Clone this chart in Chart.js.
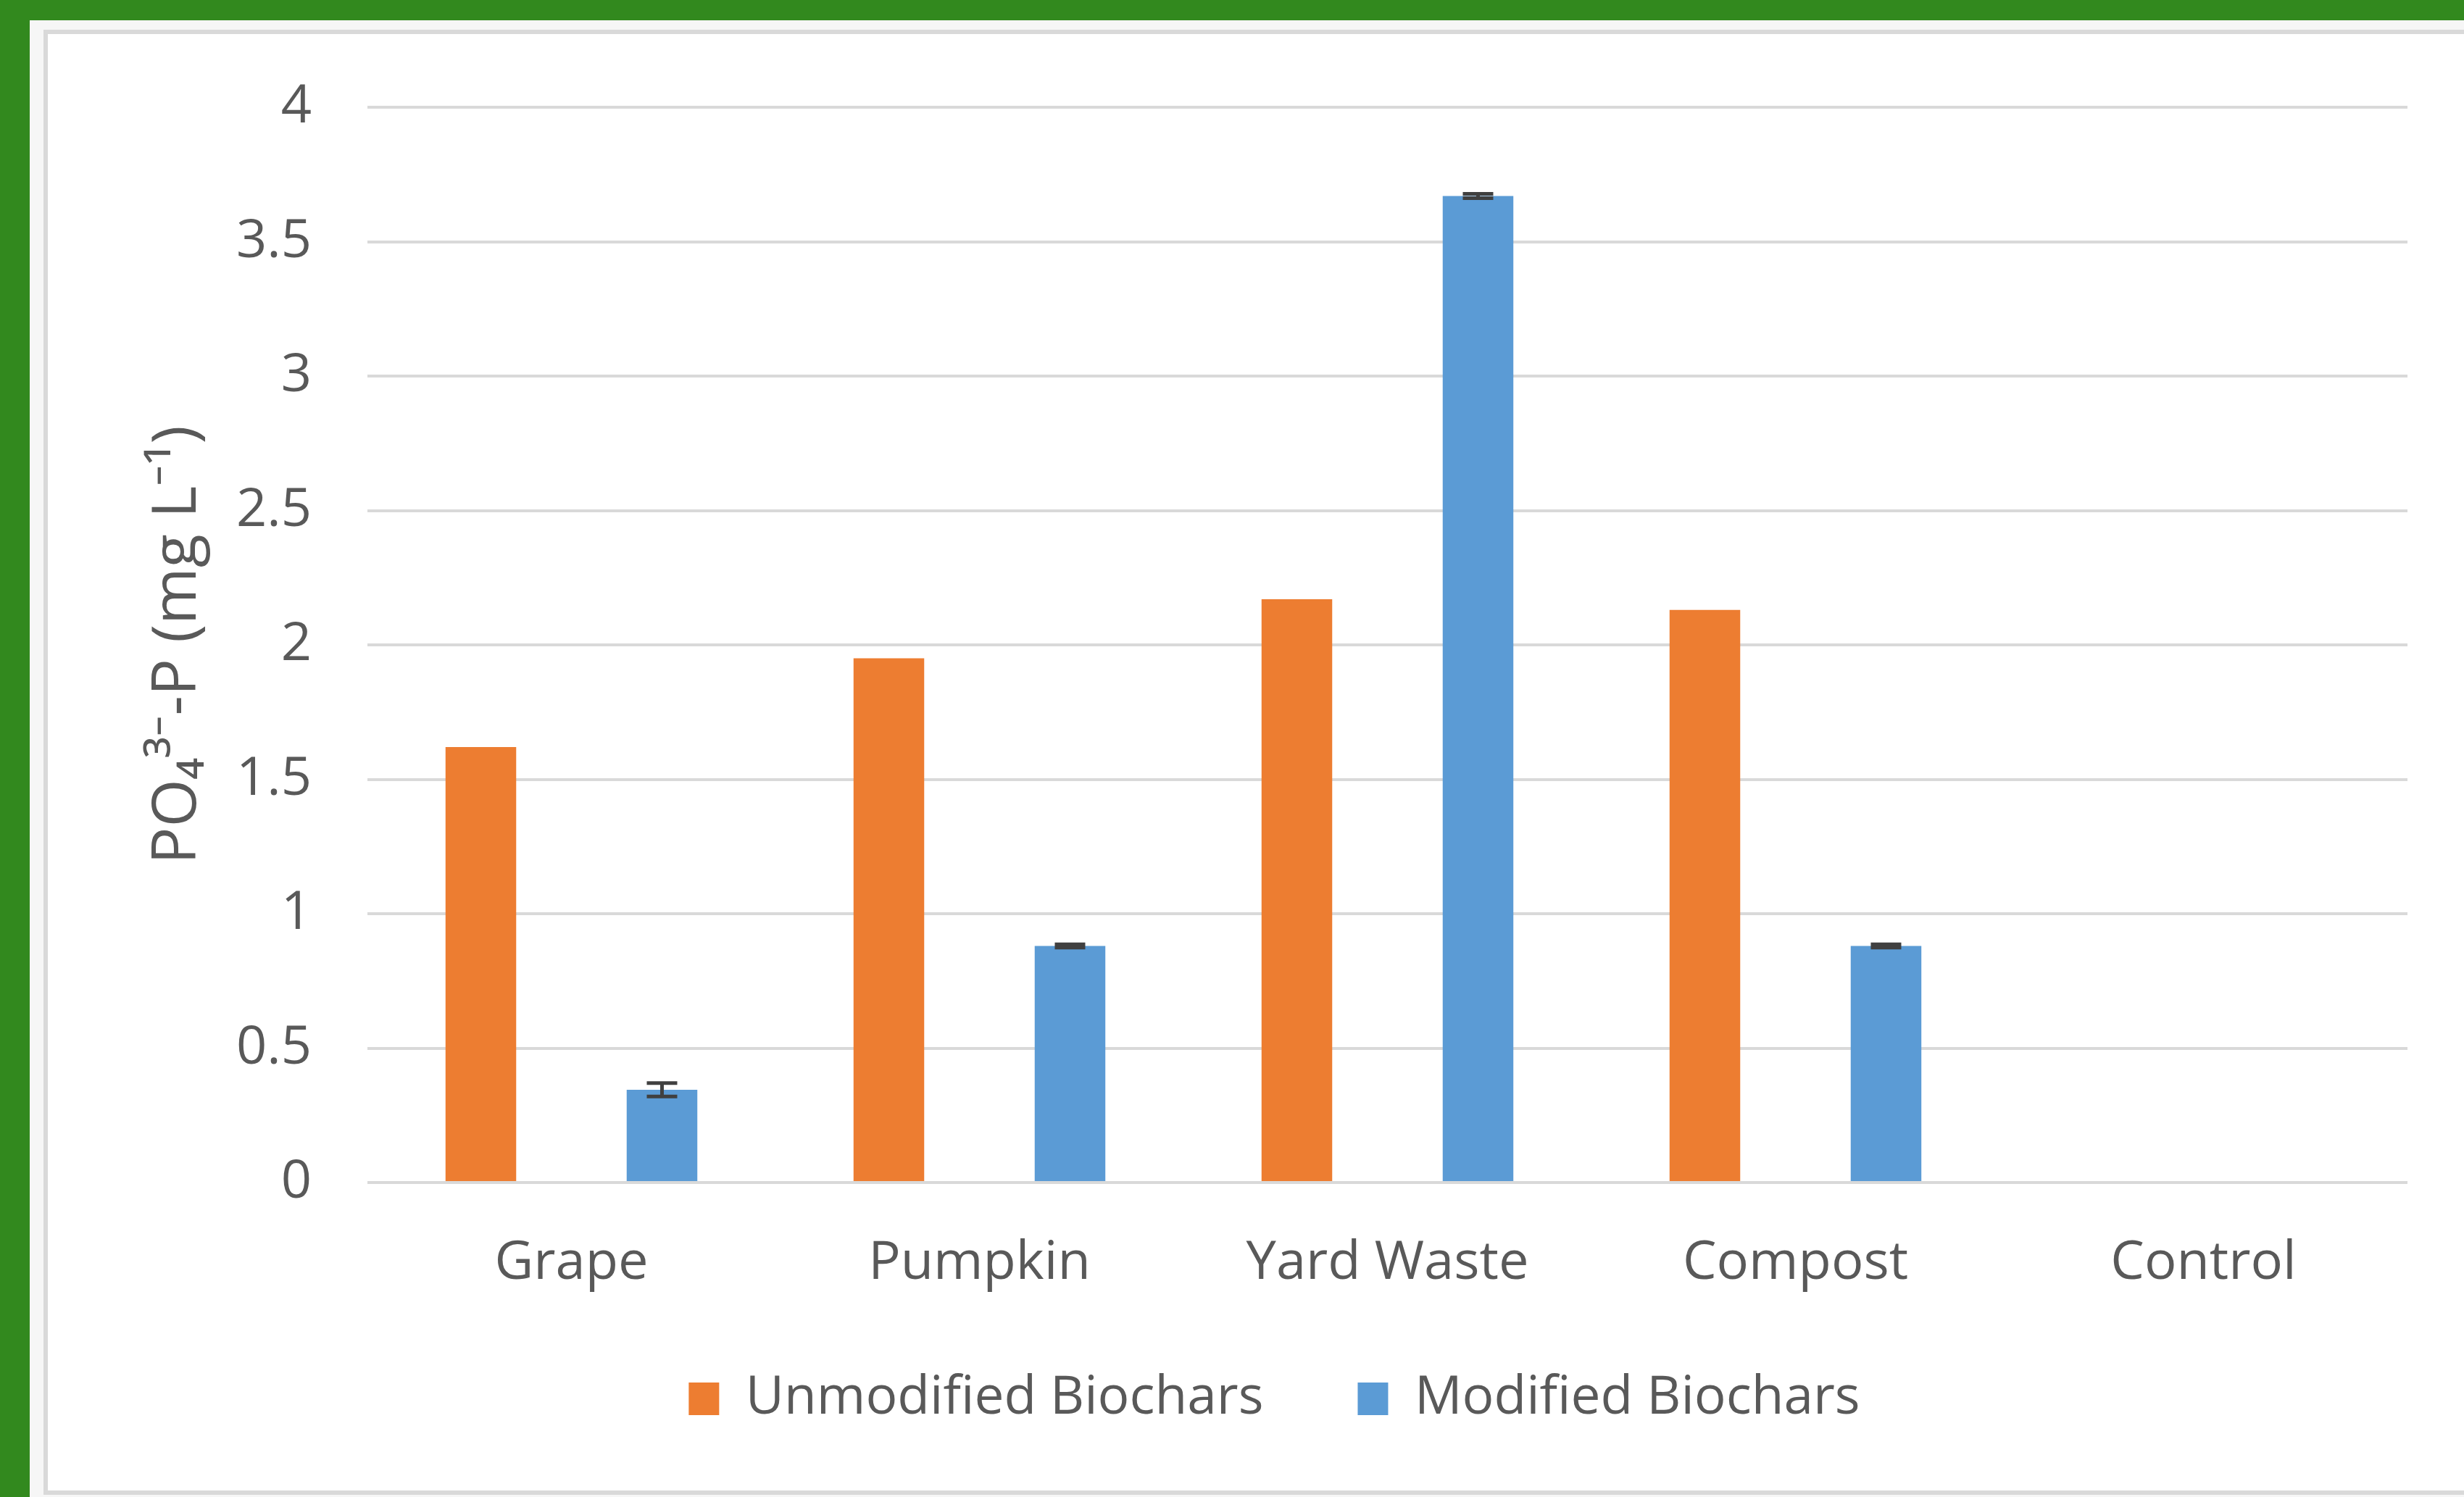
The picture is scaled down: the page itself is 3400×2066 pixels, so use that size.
<!DOCTYPE html>
<html>
<head>
<meta charset="utf-8">
<script src="https://cdn.jsdelivr.net/npm/chart.js@4"></script>
<style>
  html, body { margin: 0; padding: 0; }
  body { width: 3400px; height: 2066px; background: #32891e; overflow: hidden; position: relative; }
  #panel { position: absolute; left: 41px; top: 28px; width: 3359px; height: 2038px; background: #f6f6f6; }
  #frame { position: absolute; left: 60px; top: 41px; width: 3400px; height: 2022px; background: #ffffff; border: 6px solid #d9d9d9; box-sizing: border-box; }
  #c { position: absolute; left: 0; top: 0; }
</style>
</head>
<body>
<div id="panel"></div>
<div id="frame"></div>
<canvas id="c" width="3400" height="2066"></canvas>
<script>
const categories = ["Grape", "Pumpkin", "Yard Waste", "Compost", "Control"];
const seriesNames = ["Unmodified Biochars", "Modified Biochars"];
const unmodified = [1.62, 1.95, 2.17, 2.13, 0];
const modified = [0.345, 0.88, 3.67, 0.88, 0];
const unmodifiedErr = [0, 0, 0, 0, 0];
const modifiedErr = [0.025, 0.006, 0.008, 0.006, 0];
const yTicks = [0, 0.5, 1, 1.5, 2, 2.5, 3, 3.5, 4];
const yTickLabels = ["0", "0.5", "1", "1.5", "2", "2.5", "3", "3.5", "4"];
const yTitle = "PO\u2084\u00B3\u207B-P (mg L\u207B\u00B9)";

const textColor = "#595959";
const fontFamily = "'Open Sans', 'Noto Sans', 'DejaVu Sans', sans-serif";

const errorBars = {
  id: "errorBars",
  afterDatasetsDraw(chart) {
    const ctx = chart.ctx;
    const yScale = chart.scales.y;
    chart.data.datasets.forEach((ds, di) => {
      const meta = chart.getDatasetMeta(di);
      (ds.errors || []).forEach((e, i) => {
        if (!e) return;
        const el = meta.data[i];
        const v = ds.data[i];
        const yt = yScale.getPixelForValue(v + e);
        const yb = yScale.getPixelForValue(v - e);
        const half = 21;
        ctx.save();
        ctx.strokeStyle = "#404040";
        ctx.lineWidth = 5;
        ctx.beginPath();
        ctx.moveTo(el.x, yt); ctx.lineTo(el.x, yb);
        ctx.moveTo(el.x - half, yt); ctx.lineTo(el.x + half, yt);
        ctx.moveTo(el.x - half, yb); ctx.lineTo(el.x + half, yb);
        ctx.stroke();
        ctx.restore();
      });
    });
  }
};

// Move the legend row up slightly so it sits where the reference puts it
const legendShift = {
  id: "legendShift",
  afterLayout(chart) {
    if (chart.legend) {
      chart.legend.top -= 33;
      chart.legend.bottom -= 33;
    }
  }
};

new Chart(document.getElementById("c"), {
  type: "bar",
  data: {
    labels: categories,
    datasets: [
      { label: seriesNames[0], data: unmodified, errors: unmodifiedErr, backgroundColor: "#ED7D31", borderWidth: 0 },
      { label: seriesNames[1], data: modified, errors: modifiedErr, backgroundColor: "#5B9BD5", borderWidth: 0 }
    ]
  },
  options: {
    responsive: false,
    devicePixelRatio: 1,
    animation: false,
    categoryPercentage: 0.888,
    barPercentage: 0.39,
    layout: { padding: { left: 195, right: 78, top: 148, bottom: 56 } },
    plugins: {
      tooltip: { enabled: false },
      legend: {
        position: "bottom",
        labels: {
          color: textColor,
          font: { family: fontFamily, size: 73 },
          boxWidth: 42,
          boxHeight: 45,
          padding: 130
        }
      }
    },
    scales: {
      x: {
        grid: { display: false, drawTicks: false },
        border: { display: false },
        ticks: { color: textColor, font: { family: fontFamily, size: 74 }, padding: 68, maxRotation: 0 },
        afterFit(scale) { scale.height = 165; }
      },
      y: {
        min: 0, max: 4,
        afterBuildTicks(scale) { scale.ticks = yTicks.map(v => ({ value: v })); },
        grid: { color: "#d9d9d9", lineWidth: 4, drawTicks: false },
        border: { display: false },
        ticks: {
          color: textColor, font: { family: fontFamily, size: 74 }, padding: 77,
          callback: (value, index) => yTickLabels[index]
        },
        title: { display: true, text: yTitle, color: textColor, font: { family: fontFamily, size: 85 }, padding: 0 },
        afterFit(scale) { scale.width = 312; }
      }
    }
  },
  plugins: [errorBars, legendShift]
});
</script>
</body>
</html>
